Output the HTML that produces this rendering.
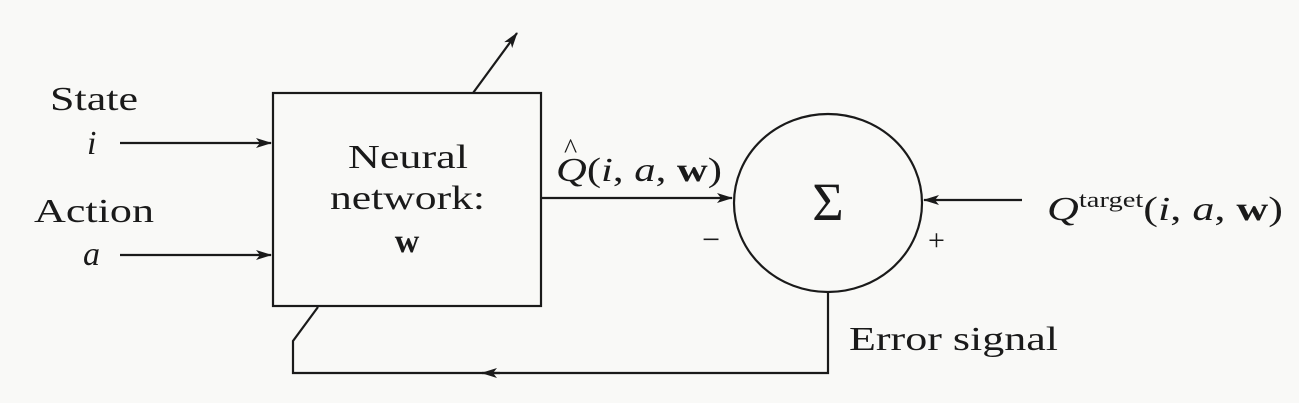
<!DOCTYPE html>
<html><head><meta charset="utf-8"><style>
html,body{margin:0;padding:0;background:#f9f9f7;}
svg{display:block;}
text{font-family:"Liberation Serif",serif;fill:#1a1a1a;}
</style></head><body>
<svg width="1299" height="403" viewBox="0 0 1299 403">
<defs>
<marker id="ah" markerWidth="16" markerHeight="10" refX="15" refY="5" orient="auto" markerUnits="userSpaceOnUse">
<path d="M0,0 L16,5 L0,10 L4,5 Z" fill="#1a1a1a"/></marker>
</defs>
<g stroke="#1a1a1a" stroke-width="2.2" fill="none">
<rect x="273" y="93" width="268" height="213"/>
<ellipse cx="828" cy="203" rx="94" ry="89"/>
<line x1="473" y1="93" x2="517" y2="33" marker-end="url(#ah)"/>
<line x1="120" y1="143" x2="271" y2="143" marker-end="url(#ah)"/>
<line x1="120" y1="255" x2="271" y2="255" marker-end="url(#ah)"/>
<line x1="541" y1="198" x2="732" y2="198" marker-end="url(#ah)"/>
<line x1="1022" y1="200" x2="924" y2="200" marker-end="url(#ah)"/>
<path d="M828,292 L828,373 L293,373 L293,341 L318,307"/>
<line x1="500" y1="373" x2="482" y2="373" marker-end="url(#ah)"/>
</g>
<text x="50" y="110" font-size="34" textLength="88" lengthAdjust="spacingAndGlyphs">State</text>
<text x="87" y="154" font-size="34" font-style="italic">i</text>
<text x="34" y="222" font-size="34" textLength="120" lengthAdjust="spacingAndGlyphs">Action</text>
<text x="83" y="265" font-size="34" font-style="italic">a</text>
<text x="348" y="168" font-size="34" textLength="120" lengthAdjust="spacingAndGlyphs">Neural</text>
<text x="330" y="209" font-size="34" textLength="155" lengthAdjust="spacingAndGlyphs">network:</text>
<text x="407" y="252" font-size="34" font-weight="bold" text-anchor="middle">w</text>
<text x="556" y="181" font-size="34" textLength="166" lengthAdjust="spacingAndGlyphs"><tspan font-style="italic">Q</tspan>(<tspan font-style="italic">i</tspan>, <tspan font-style="italic">a</tspan>, <tspan font-weight="bold">w</tspan>)</text>
<text x="564" y="158" font-size="28">^</text>
<text x="828" y="220" font-size="54" text-anchor="middle">Σ</text>
<text x="702" y="250" font-size="32">−</text>
<text x="928" y="250" font-size="30">+</text>
<text x="1047" y="220" font-size="34" textLength="236" lengthAdjust="spacingAndGlyphs"><tspan font-style="italic">Q</tspan><tspan font-size="22" dy="-13">target</tspan><tspan dy="13">(</tspan><tspan font-style="italic">i</tspan>, <tspan font-style="italic">a</tspan>, <tspan font-weight="bold">w</tspan>)</text>
<text x="849" y="350" font-size="34" textLength="209" lengthAdjust="spacingAndGlyphs">Error signal</text>
</svg>
</body></html>
